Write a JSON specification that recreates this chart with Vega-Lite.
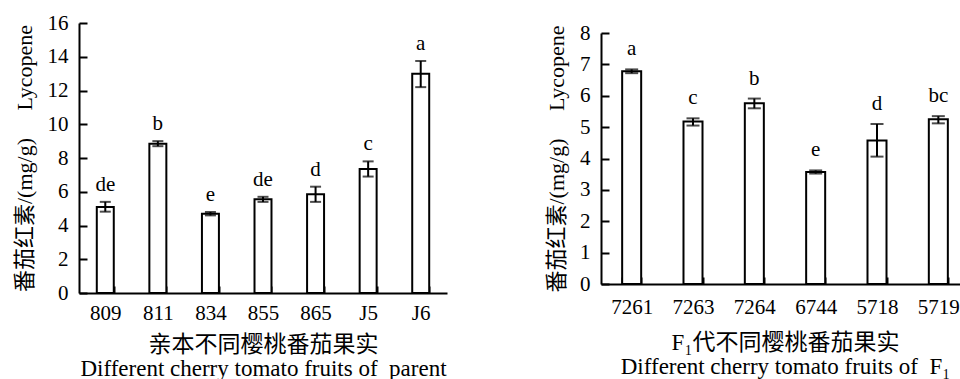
{
  "$schema": "https://vega.github.io/schema/vega-lite/v6.json",
  "padding": {"left": 12, "top": 12, "right": 0, "bottom": 0},
  "background": "white",
  "spacing": 98,
  "config": {
    "view": {"stroke": null},
    "font": "Liberation Serif",
    "axis": {
      "domainColor": "black", "domainWidth": 2,
      "tickColor": "black", "tickWidth": 2,
      "labelColor": "black", "titleColor": "black",
      "labelFont": "Liberation Serif", "labelFontSize": 21,
      "titleFont": "Liberation Serif, Noto Sans CJK SC", "titleFontSize": 21, "titleFontWeight": "normal",
      "grid": false
    }
  },
  "hconcat": [
    {
      "width": 368, "height": 270,
      "data": {"values": [
        {"c": "809", "m": 5.1, "lo": 4.82, "hi": 5.4, "l": "de"},
        {"c": "811", "m": 8.85, "lo": 8.7, "hi": 9.0, "l": "b"},
        {"c": "834", "m": 4.7, "lo": 4.6, "hi": 4.8, "l": "e"},
        {"c": "855", "m": 5.55, "lo": 5.4, "hi": 5.7, "l": "de"},
        {"c": "865", "m": 5.85, "lo": 5.4, "hi": 6.3, "l": "d"},
        {"c": "J5", "m": 7.35, "lo": 6.9, "hi": 7.8, "l": "c"},
        {"c": "J6", "m": 13.0, "lo": 12.2, "hi": 13.75, "l": "a"}
      ]},
      "encoding": {
        "x": {"field": "c", "type": "nominal", "sort": null,
          "scale": {"paddingInner": 0.677, "paddingOuter": 0.3385},
          "axis": {"labelAngle": 0, "tickBand": "extent", "tickSize": -7, "labelPadding": 16, "titlePadding": 10, "titleLineHeight": 24, "titleFontSize": 23,
            "title": ["亲本不同樱桃番茄果实", "Different cherry tomato fruits of\u00a0\u00a0parent"]}},
        "y": {"type": "quantitative", "title": "番茄红素/(mg/g)\u2003 Lycopene",
          "scale": {"domain": [0, 16]},
          "axis": {"values": [0, 2, 4, 6, 8, 10, 12, 14, 16], "labelOverlap": false, "labelBound": false, "tickSize": -8, "labelPadding": 19, "titlePadding": 11, "titleFontSize": 22}}
      },
      "layer": [
        {"mark": {"type": "bar", "fill": "white", "stroke": "black", "strokeWidth": 2},
         "encoding": {"y": {"field": "m"}}},
        {"mark": {"type": "errorbar", "color": "black", "thickness": 2, "ticks": {"size": 11, "thickness": 2, "color": "black"}},
         "encoding": {"y": {"field": "lo"}, "y2": {"field": "hi"}}},
        {"mark": {"type": "text", "baseline": "bottom", "dy": -7, "fontSize": 21, "font": "Liberation Serif", "color": "black"},
         "encoding": {"y": {"field": "hi"}, "text": {"field": "l"}}}
      ]
    },
    {
      "width": 368, "height": 261,
      "data": {"values": [
        {"c": "7261", "m": 6.78, "lo": 6.72, "hi": 6.84, "l": "a"},
        {"c": "7263", "m": 5.18, "lo": 5.05, "hi": 5.28, "l": "c"},
        {"c": "7264", "m": 5.76, "lo": 5.6, "hi": 5.91, "l": "b"},
        {"c": "6744", "m": 3.57, "lo": 3.52, "hi": 3.62, "l": "e"},
        {"c": "5718", "m": 4.57, "lo": 4.06, "hi": 5.1, "l": "d"},
        {"c": "5719", "m": 5.25, "lo": 5.12, "hi": 5.35, "l": "bc"}
      ]},
      "encoding": {
        "x": {"field": "c", "type": "nominal", "sort": null,
          "scale": {"paddingInner": 0.69, "paddingOuter": 0.345},
          "axis": {"labelAngle": 0, "tickBand": "extent", "tickSize": -7, "labelPadding": 19, "titlePadding": 14, "titleLineHeight": 24, "titleFontSize": 23,
            "title": ["F₁代不同樱桃番茄果实", "Different cherry tomato fruits of\u00a0\u00a0F₁"]}},
        "y": {"type": "quantitative", "title": "番茄红素/(mg/g)\u2003 Lycopene",
          "scale": {"domain": [0, 8], "range": [261, 10]},
          "axis": {"values": [0, 1, 2, 3, 4, 5, 6, 7, 8], "labelOverlap": false, "labelBound": false, "tickSize": -8, "labelPadding": 19, "titlePadding": 11, "titleFontSize": 22}}
      },
      "layer": [
        {"mark": {"type": "bar", "fill": "white", "stroke": "black", "strokeWidth": 2},
         "encoding": {"y": {"field": "m"}}},
        {"mark": {"type": "errorbar", "color": "black", "thickness": 2, "ticks": {"size": 13, "thickness": 2, "color": "black"}},
         "encoding": {"y": {"field": "lo"}, "y2": {"field": "hi"}}},
        {"mark": {"type": "text", "baseline": "bottom", "dy": -10, "fontSize": 21, "font": "Liberation Serif", "color": "black"},
         "encoding": {"y": {"field": "hi"}, "text": {"field": "l"}}}
      ]
    }
  ]
}
